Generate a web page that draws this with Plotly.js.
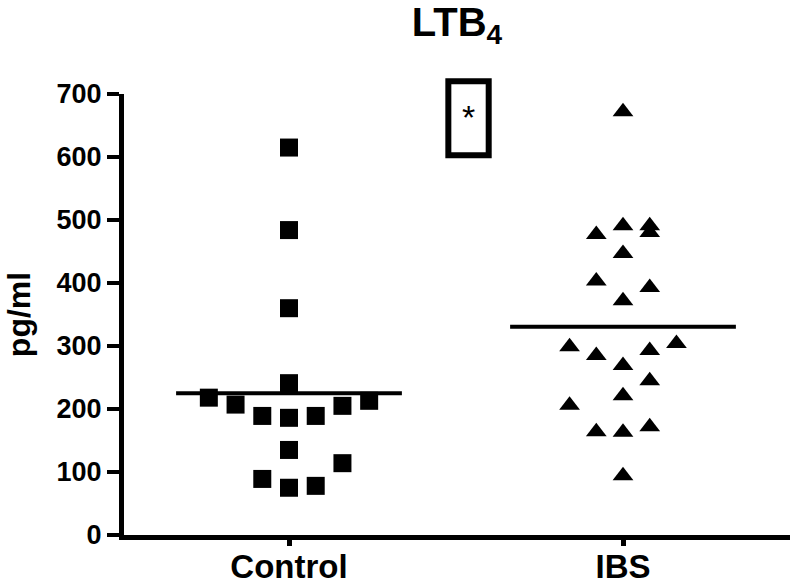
<!DOCTYPE html>
<html>
<head>
<meta charset="utf-8">
<script src="https://cdn.plot.ly/plotly-3.0.1.min.js"></script>
<style>
html, body { margin: 0; padding: 0; background: #ffffff; }
#chart { width: 797px; height: 585px; }
</style>
</head>
<body>
<div id="chart"></div>
<script>
// ---- data ----
const groups = ['Control', 'IBS'];
const controlValues = [615, 484, 360, 241, 218, 207, 189, 186, 189, 205, 213, 135, 114, 89, 75, 78];
const controlSlot   = [0, 0, 0, 0, -3, -2, -1, 0, 1, 2, 3, 0, 2, -1, 0, 1];
const ibsValues = [672, 477, 491, 491, 480, 447, 403, 393, 372, 299, 285, 269, 293, 304, 245, 221, 206, 164, 163, 172, 94];
const ibsSlot   = [0, -1, 0, 1, 1, 0, -1, 1, 0, -2, -1, 0, 1, 2, 1, 0, -2, -1, 0, 1, 0];
const yTicks = [0, 100, 200, 300, 400, 500, 600, 700];
const chartTitle = 'LTB<sub>4</sub>';
const yTitle = 'pg/ml';
const significance = '*';

// ---- styling ----
const FONT = '"Liberation Sans", Arial, Helvetica, sans-serif';
const SLOT = 0.08;       // horizontal spacing of scattered points (category units)
const HALF_MEAN = 0.338; // half width of mean line (category units)

function mean(a) { return a.reduce((s, v) => s + v, 0) / a.length; }

const controlX = controlSlot.map(s => 0 + s * SLOT);
const ibsX = ibsSlot.map(s => 1 + s * SLOT);
const controlMean = mean(controlValues);
const ibsMean = mean(ibsValues);

const traces = [
  {
    type: 'scatter', mode: 'markers', name: groups[0],
    x: controlX, y: controlValues,
    marker: { symbol: 'square', size: 18, color: '#000000', line: { width: 0 } },
    hoverinfo: 'y'
  },
  {
    type: 'scatter', mode: 'markers', name: groups[1],
    x: ibsX, y: ibsValues,
    marker: { symbol: 'triangle-up', size: 18, color: '#000000', line: { width: 0 } },
    hoverinfo: 'y'
  },
  {
    type: 'scatter', mode: 'lines', name: groups[0] + ' mean',
    x: [0 - HALF_MEAN, 0 + HALF_MEAN], y: [controlMean, controlMean],
    line: { color: '#000000', width: 4 }, hoverinfo: 'skip'
  },
  {
    type: 'scatter', mode: 'lines', name: groups[1] + ' mean',
    x: [1 - HALF_MEAN, 1 + HALF_MEAN], y: [ibsMean, ibsMean],
    line: { color: '#000000', width: 4 }, hoverinfo: 'skip'
  }
];

const layout = {
  width: 797, height: 585,
  margin: { l: 124, r: 7, t: 94, b: 50, pad: 0 },
  paper_bgcolor: '#ffffff', plot_bgcolor: '#ffffff',
  showlegend: false,
  font: { family: FONT, color: '#000000' },
  title: {
    text: chartTitle,
    font: { family: FONT, size: 40, weight: 'bold', color: '#000000' },
    x: 0.5, xref: 'paper', xanchor: 'center',
    y: 0.963, yref: 'container', yanchor: 'middle'
  },
  xaxis: {
    range: [-0.494, 1.5],
    tickvals: [0, 1], ticktext: groups,
    showline: true, linewidth: 5, linecolor: '#000000',
    ticks: 'outside', ticklen: 6, tickwidth: 5, tickcolor: '#000000',
    ticklabelstandoff: -8,
    showgrid: false, zeroline: false,
    tickfont: { family: FONT, size: 33, weight: 'bold', color: '#000000' },
    fixedrange: true
  },
  yaxis: {
    range: [0, 700],
    tickvals: yTicks, ticktext: yTicks.map(String),
    showline: true, linewidth: 5, linecolor: '#000000',
    ticks: 'outside', ticklen: 12, tickwidth: 4, tickcolor: '#000000',
    showgrid: false, zeroline: false,
    tickfont: { family: FONT, size: 27, weight: 'bold', color: '#000000' },
    title: { text: yTitle, font: { family: FONT, size: 32, weight: 'bold', color: '#000000' }, standoff: 18 },
    fixedrange: true
  },
  shapes: [
    {
      type: 'rect', xref: 'paper', yref: 'paper',
      x0: 0.487, x1: 0.5476, y0: 0.861, y1: 1.0288,
      line: { color: '#000000', width: 6 }, fillcolor: 'rgba(0,0,0,0)'
    }
  ],
  annotations: [
    {
      text: significance, xref: 'paper', yref: 'paper',
      x: 0.517, y: 0.948, xanchor: 'center', yanchor: 'middle',
      showarrow: false,
      font: { family: FONT, size: 34, color: '#000000' }
    }
  ]
};

Plotly.newPlot('chart', traces, layout, { displayModeBar: false, staticPlot: true });
</script>
</body>
</html>
